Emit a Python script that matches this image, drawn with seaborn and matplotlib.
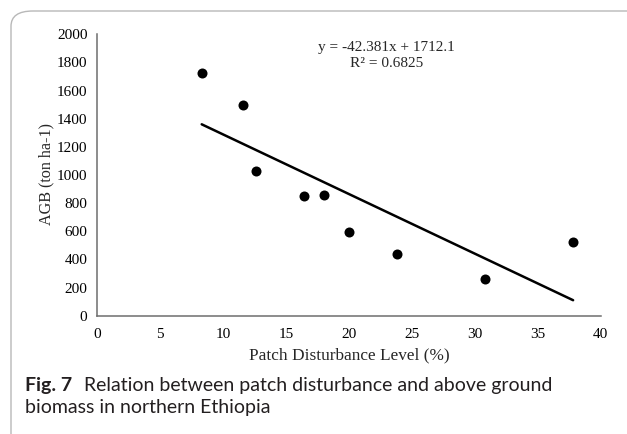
import matplotlib
matplotlib.use("Agg")
import matplotlib.pyplot as plt
import seaborn as sns
import numpy as np
import pandas as pd
from matplotlib.patches import FancyBboxPatch

# Data
disturbance = [8.3, 11.6, 12.6, 16.4, 18.0, 20.0, 23.8, 30.8, 37.8]
agb = [1727, 1498, 1031, 848, 860, 597, 436, 258, 526]
slope = -42.381
intercept = 1712.1
r2 = 0.6825
x_ticks = [0, 5, 10, 15, 20, 25, 30, 35, 40]
y_ticks = [0, 200, 400, 600, 800, 1000, 1200, 1400, 1600, 1800, 2000]

sns.set_theme(style="white")
plt.rcParams['font.family'] = ['Liberation Serif', 'DejaVu Serif']

W, H = 627, 434
L, R, B, T = 97.2, 600.8, 315.7, 34.3
fig = plt.figure(figsize=(W / 100, H / 100), dpi=100)
ax = fig.add_axes([L / W, 1 - B / H, (R - L) / W, (B - T) / H])

df = pd.DataFrame({"x": disturbance, "y": agb})
xs = np.array([min(disturbance), max(disturbance)])
line_df = pd.DataFrame({"x": xs, "y": slope * xs + intercept})

sns.lineplot(data=line_df, x="x", y="y", ax=ax, color="black", linewidth=1.8)
sns.scatterplot(data=df, x="x", y="y", ax=ax, color="black", s=52, edgecolor="black", linewidth=0, zorder=3)

ax.set_xlim(0, 40)
ax.set_ylim(0, 2000)
ax.set_xticks(x_ticks)
ax.set_yticks(y_ticks)
ax.tick_params(axis="both", length=0, labelsize=11, colors="black")
ax.tick_params(axis="y", pad=7)
ax.tick_params(axis="x", pad=9)
for s in ["top", "right"]:
    ax.spines[s].set_visible(False)
for s in ["left", "bottom"]:
    ax.spines[s].set_color("#6e6e6e")
    ax.spines[s].set_linewidth(1.1)

ax.set_xlabel("Patch Disturbance Level (%)", fontsize=12.4)
ax.set_ylabel("AGB (ton ha-1)", fontsize=11.6)
ax.xaxis.label.set_va("center")
ax.yaxis.label.set_va("center")
ax.xaxis.set_label_coords((349.5 - L) / (R - L), (B - 355) / (B - T))
ax.yaxis.set_label_coords((46.7 - L) / (R - L), (B - 174) / (B - T))

ax.text(23.0, (B - 48) / (B - T) * 2000, f"y = {slope}x + {intercept}", ha="center", va="center", fontsize=11)
ax.text(23.0, (B - 63.5) / (B - T) * 2000, f"R² = {r2}", ha="center", va="center", fontsize=11)

# Frame
box = FancyBboxPatch((11 / W, -0.3), 1.2, 1.3 - 11 / H, boxstyle="round,pad=0,rounding_size=0.035",
                     transform=fig.transFigure, fill=False, edgecolor="#b8b8b8", linewidth=1.0)
fig.patches.append(box)

cap_font = ['Lato', 'DejaVu Sans']
fig.text(25 / W, 1 - 386 / H, "Fig. 7", fontsize=14, fontweight="bold", family=cap_font,
         color="#231f20", va="center", ha="left")
fig.text(84 / W, 1 - 386 / H, "Relation between patch disturbance and above ground", fontsize=14,
         family=cap_font, color="#231f20", va="center", ha="left")
fig.text(25 / W, 1 - 408 / H, "biomass in northern Ethiopia", fontsize=14,
         family=cap_font, color="#231f20", va="center", ha="left")

fig.savefig("out.png", dpi=100, facecolor="white")
